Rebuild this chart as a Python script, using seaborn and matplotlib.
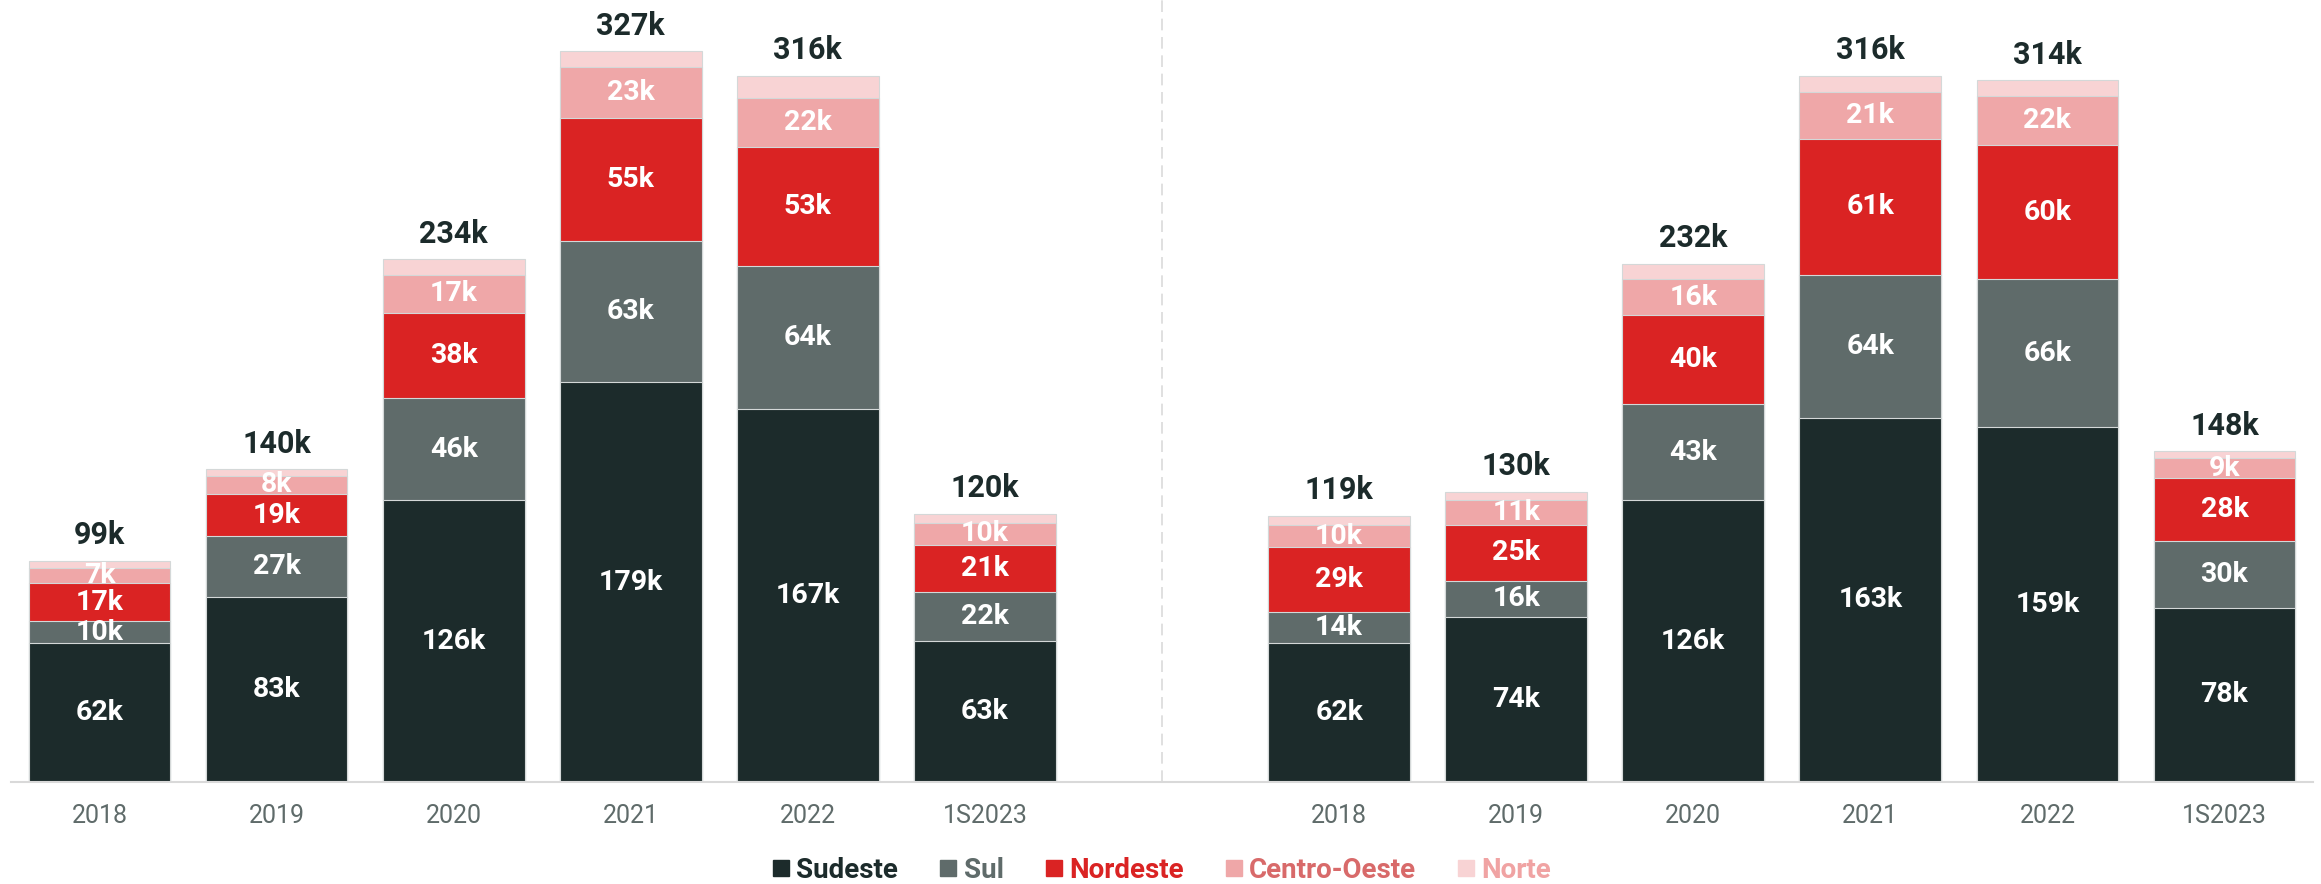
import pandas as pd
import seaborn as sns
import matplotlib.pyplot as plt
from matplotlib.lines import Line2D

years = ["2018", "2019", "2020", "2021", "2022", "1S2023"]
regions = ["Sudeste", "Sul", "Nordeste", "Centro-Oeste", "Norte"]

# left block (values in thousands)
left_sudeste = [62, 83, 126, 179, 167, 63]
left_sul = [10, 27, 46, 63, 64, 22]
left_nordeste = [17, 19, 38, 55, 53, 21]
left_centro_oeste = [7, 8, 17, 23, 22, 10]
left_norte = [3, 3, 7, 7, 10, 4]
left_total = [99, 140, 234, 327, 316, 120]

# right block (values in thousands)
right_sudeste = [62, 74, 126, 163, 159, 78]
right_sul = [14, 16, 43, 64, 66, 30]
right_nordeste = [29, 25, 40, 61, 60, 28]
right_centro_oeste = [10, 11, 16, 21, 22, 9]
right_norte = [4, 4, 7, 7, 7, 3]
right_total = [119, 130, 232, 316, 314, 148]

bar_colors = ["#1c2b2b", "#5f6b6a", "#da2323", "#efa7a8", "#f8d3d4"]
text_colors = ["#1c2b2b", "#5f6b6a", "#da2323", "#d86a6a", "#f0a3a3"]

order = ["L" + y for y in years] + ["gap"] + ["R" + y for y in years]

rows = []
for prefix, vals, tot in [
    ("L", [left_sudeste, left_sul, left_nordeste, left_centro_oeste, left_norte], left_total),
    ("R", [right_sudeste, right_sul, right_nordeste, right_centro_oeste, right_norte], right_total),
]:
    for i, y in enumerate(years):
        row = {"slot": prefix + y, "total": tot[i]}
        cum = 0
        for r, v in zip(regions, vals):
            row[r] = v[i]
            cum += v[i]
            row["cum_" + r] = cum
        rows.append(row)
df = pd.DataFrame(rows)

sns.set_style("white")
plt.rcParams["font.family"] = ["Roboto", "DejaVu Sans"]

fig = plt.figure(figsize=(23.21, 8.84), dpi=100)
ax = fig.add_axes([11 / 2321, 102 / 884, 2302 / 2321, 782 / 884])

# stacked bars: draw cumulative sums from the top layer down
for r, c in reversed(list(zip(regions, bar_colors))):
    sns.barplot(data=df, x="slot", y="cum_" + r, order=order, color=c,
                width=0.8, edgecolor="#d4d8d8", linewidth=0.8,
                errorbar=None, saturation=1, ax=ax)

# segment labels and totals
for _, row in df.iterrows():
    xi = order.index(row["slot"])
    bottom = 0
    for r in regions:
        v = row[r]
        if r != "Norte":
            ax.text(xi, bottom + v / 2, f"{v}k", ha="center", va="center",
                    color="white", fontsize=20.5, fontweight="bold")
        bottom += v
    ax.annotate(f"{row['total']}k", (xi, row["cum_Norte"]), xytext=(0, 12),
                textcoords="offset points", ha="center", va="baseline",
                color="#1c2b2b", fontsize=22, fontweight="bold")

ax.set_ylim(0, 350)
ax.set_xlim(-0.5, 12.5)
ax.axvline(6, color="#dadada", linestyle=(0, (7, 4)), linewidth=1.2, zorder=0)

ax.set_xticks(range(len(order)))
ax.set_xticklabels(years + [""] + years, fontsize=18, color="#5f6b6a")
ax.tick_params(axis="x", which="major", length=0, pad=16)
ax.set_xticks([i - 0.5 for i in range(len(order) + 1)], minor=True)
ax.tick_params(axis="x", which="minor", length=8, width=1.2, color="#d9d9d9")
ax.set_yticks([])
ax.set_xlabel("")
ax.set_ylabel("")
for s in ["top", "right", "left"]:
    ax.spines[s].set_visible(False)
ax.spines["bottom"].set_color("#d9d9d9")
ax.spines["bottom"].set_linewidth(1.5)

handles = [Line2D([], [], marker="s", linestyle="none", markersize=12,
                  markerfacecolor=c, markeredgecolor=c) for c in bar_colors]
leg = fig.legend(handles, regions, loc="center", bbox_to_anchor=(0.5, 14 / 884),
                 ncol=5, frameon=False, handletextpad=0.15, columnspacing=1.4,
                 handlelength=0.8, prop={"size": 20, "weight": "bold"})
for t, c in zip(leg.get_texts(), text_colors):
    t.set_color(c)

plt.savefig("out.png", dpi=100)
